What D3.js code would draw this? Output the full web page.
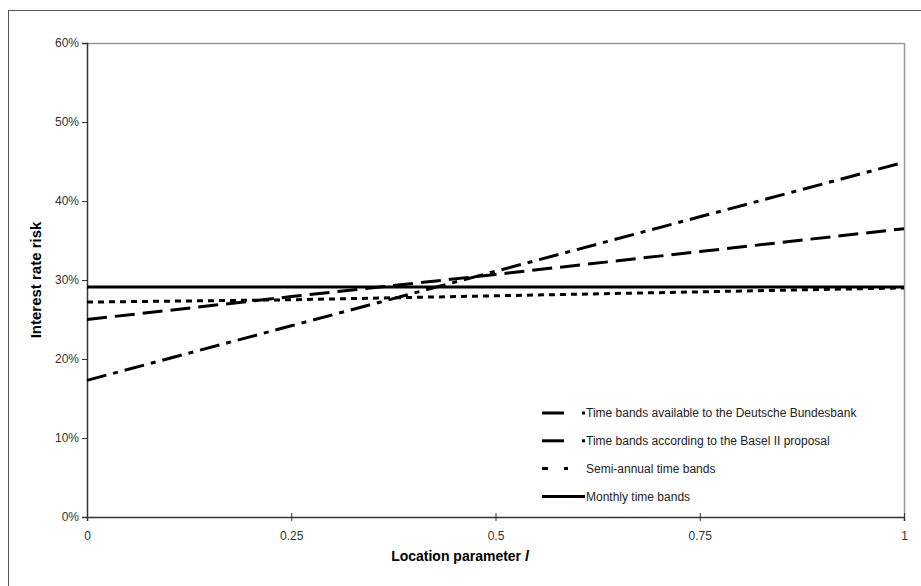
<!DOCTYPE html>
<html>
<head>
<meta charset="utf-8">
<script src="https://cdn.jsdelivr.net/npm/d3@7"></script>
<style>
  body { margin: 0; background: #fff; }
  svg { display: block; font-family: "Liberation Sans", Arial, sans-serif; }
</style>
</head>
<body>
<svg id="chart" width="921" height="586"></svg>
<script>
// location parameter l
var locations = [0, 0.25, 0.5, 0.75, 1];

// interest rate risk per series (fraction)
var bundesbank = [0.173, 0.242, 0.311, 0.380, 0.449];
var basel = [0.250, 0.279, 0.307, 0.336, 0.365];
var semiAnnual = [0.272, 0.275, 0.280, 0.285, 0.290];
var monthly = [0.291, 0.291, 0.291, 0.291, 0.291];

var seriesNames = [
  "Time bands available to the Deutsche Bundesbank",
  "Time bands according to the Basel II proposal",
  "Semi-annual time bands",
  "Monthly time bands"
];

var xTicks = [0, 0.25, 0.5, 0.75, 1];
var xTickLabels = ["0", "0.25", "0.5", "0.75", "1"];
var yTicks = [0, 0.1, 0.2, 0.3, 0.4, 0.5, 0.6];

var svg = d3.select("#chart");
var margin = {left: 87, right: 17, top: 43, bottom: 69};
var W = 921, H = 586;
var pw = W - margin.left - margin.right,
    ph = H - margin.top - margin.bottom;

// outer frame (runs off the picture at right and bottom)
svg.append("rect")
  .attr("x", 8.5).attr("y", 10.5)
  .attr("width", 1000).attr("height", 1000)
  .attr("fill", "none").attr("stroke", "#555").attr("stroke-width", 1);

var x = d3.scaleLinear().domain([0, 1]).range([0, pw]);
var y = d3.scaleLinear().domain([0, 0.6]).range([ph, 0]);

var g = svg.append("g").attr("transform", "translate(" + margin.left + "," + margin.top + ")");

// plot frame, top and right in grey
g.append("line").attr("x1", 0).attr("x2", pw).attr("y1", 0.5).attr("y2", 0.5)
  .attr("stroke", "#999").attr("stroke-width", 1.5);
g.append("line").attr("x1", pw + 0.5).attr("x2", pw + 0.5).attr("y1", 0).attr("y2", ph)
  .attr("stroke", "#999").attr("stroke-width", 1.5);

var xAxis = g.append("g").attr("transform", "translate(0," + ph + ")")
  .call(d3.axisBottom(x).tickValues(xTicks)
    .tickFormat(function(d, i) { return xTickLabels[i]; })
    .tickSize(4).tickPadding(10));
xAxis.selectAll(".tick line").attr("y1", -4);

var yAxis = g.append("g")
  .call(d3.axisLeft(y).tickValues(yTicks).tickFormat(d3.format(".0%")).tickSize(5).tickPadding(3));

[xAxis, yAxis].forEach(function(a) {
  a.select(".domain").attr("stroke", "#333").attr("stroke-width", 1.5);
  a.selectAll(".tick line").attr("stroke", "#333");
  a.selectAll(".tick text").attr("fill", "#333").style("font-size", "12px")
    .style("font-family", "'Liberation Sans', Arial, sans-serif");
});

// series
var series = [
  {name: seriesNames[0], values: bundesbank, dash: "20,7,5,7"},
  {name: seriesNames[1], values: basel, dash: "20,8"},
  {name: seriesNames[2], values: semiAnnual, dash: "6,5"},
  {name: seriesNames[3], values: monthly, dash: null}
];

var line = d3.line()
  .x(function(d, i) { return x(locations[i]); })
  .y(function(d) { return y(d); });

series.forEach(function(s) {
  g.append("path")
    .datum(s.values)
    .attr("d", line)
    .attr("fill", "none")
    .attr("stroke", "#000")
    .attr("stroke-width", 3)
    .attr("stroke-dasharray", s.dash);
});

// legend
var legend = svg.append("g").attr("transform", "translate(542,413)");
series.forEach(function(s, i) {
  var row = legend.append("g").attr("transform", "translate(0," + (i * 27.8) + ")");
  if (i < 2) {
    row.append("line").attr("x1", 0).attr("x2", 22).attr("y1", 0).attr("y2", 0)
      .attr("stroke", "#000").attr("stroke-width", 3);
    row.append("rect").attr("x", 40).attr("y", -1.5).attr("width", 3).attr("height", 3).attr("fill", "#000");
  } else if (i === 2) {
    row.append("line").attr("x1", 0).attr("x2", 26).attr("y1", 0).attr("y2", 0)
      .attr("stroke", "#000").attr("stroke-width", 3).attr("stroke-dasharray", "6,16");
  } else {
    row.append("line").attr("x1", 0).attr("x2", 43).attr("y1", 0).attr("y2", 0)
      .attr("stroke", "#000").attr("stroke-width", 3);
  }
  row.append("text")
    .attr("x", 44).attr("y", 0).attr("dy", "0.35em")
    .attr("fill", "#222")
    .style("font-size", "12px")
    .text(s.name);
});

// axis titles
svg.append("text")
  .attr("transform", "translate(41,280) rotate(-90)")
  .attr("text-anchor", "middle")
  .style("font-size", "15px").style("font-weight", "bold")
  .text("Interest rate risk");

var xt = svg.append("text")
  .attr("x", 460).attr("y", 561)
  .attr("text-anchor", "middle")
  .style("font-size", "14px").style("font-weight", "bold");
xt.append("tspan").text("Location parameter ");
xt.append("tspan").style("font-style", "italic").text("l");
</script>
</body>
</html>
